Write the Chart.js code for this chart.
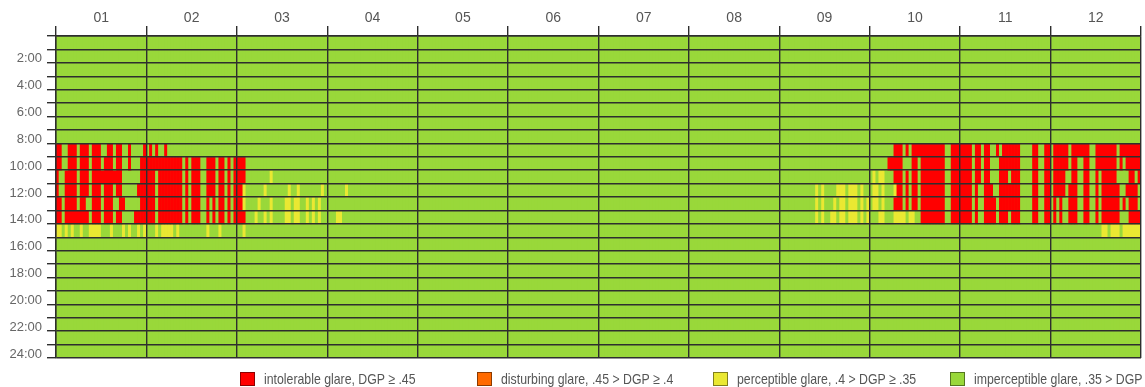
<!DOCTYPE html>
<html>
<head>
<meta charset="utf-8">
<script src="https://cdn.jsdelivr.net/npm/chart.js@4.4.0/dist/chart.umd.min.js"></script>
<style>
  html, body { margin: 0; padding: 0; background: #fff; overflow: hidden; }
  #wrap { position: relative; width: 1145px; height: 387px; overflow: hidden; }
  #legend {
    position: absolute; left: 240px; top: 370px; display: flex; white-space: nowrap;
    font-family: "Liberation Sans", Arial, sans-serif; font-size: 15px; color: #555;
  }
  .item { flex: none; width: 236.5px; display: flex; align-items: center; }
  .box { flex: none; width: 15px; height: 14px; box-sizing: border-box; border: 1px solid rgba(0,0,0,.45); margin-right: 9px; }
  .txt { display: inline-block; transform: scaleX(0.82); transform-origin: left center; }
</style>
</head>
<body>
<div id="wrap">
  <canvas id="chart"></canvas>
  <div id="legend"></div>
</div>
<script>
// 월 라벨 (위쪽 축), 한 달 = 30칸
const months = ['01', '02', '03', '04', '05', '06', '07', '08', '09', '10', '11', '12'];
const slotsPerMonth = 30;

// 시간 눈금 라벨 (2시간 간격)
const hourTickLabels = ['2:00', '4:00', '6:00', '8:00', '10:00', '12:00', '14:00', '16:00', '18:00', '20:00', '22:00', '24:00'];

// 눈부심 등급
const glareCodes = ['r', 'o', 'y', 'g'];
const glareLabels = [
  'intolerable glare, DGP \u2265 .45',
  'disturbing glare, .45 > DGP \u2265 .4',
  'perceptible glare, .4 > DGP \u2265 .35',
  'imperceptible glare, .35 > DGP'
];
const glareColors = ['#ff0000', '#ff6a00', '#eae832', '#99d83a'];

// 시간대별 값 (런렝스: 등급 + 칸 수), 적혀있지 않은 시간은 전부 g
const hour08 = 'r2 g2 r3 g1 r3 g1 r3 g2 r2 g1 r2 g2 r1 g4 r1 g1 r1 g1 r1 g2 r1 g241 r3 g1 r1 g1 r11 g2 r7 g1 r2 g1 r2 g2 r1 g1 r6 g4 r2 g2 r2 g1 r5 g1 r6 g2 r7 g1 r7';
const hour09 = 'r2 g2 r3 g1 r3 g1 r3 g1 r3 g1 r2 g2 r1 g3 r14 g1 r1 g1 r3 g2 r3 g1 r2 g1 r1 g1 r4 g213 r5 g3 r2 g1 r8 g2 r7 g1 r2 g1 r2 g3 r7 g4 r2 g2 r2 g1 r5 g1 r2 g2 r2 g2 r7 g1 r1 g1 r5';
const hour10 = 'r1 g2 r4 g1 r3 g1 r10 g6 r5 g1 r8 g1 r1 g1 r3 g2 r3 g1 r2 g1 r1 g1 r4 g8 y1 g199 y1 g1 y2 g3 r3 g1 r1 g1 r2 g1 r8 g2 r7 g1 r2 g1 r2 g3 r3 g1 r3 g4 r2 g2 r2 g1 r4 g2 r2 g2 r2 g2 r1 g1 r5 g4 r2 g1 r1';
const hour11 = 'r1 g2 r4 g1 r3 g1 r3 g1 r3 g1 r2 g5 r6 g1 r8 g1 r1 g1 r3 g2 r3 g1 r2 g1 r1 g1 r3 y1 g6 y1 g7 y1 g2 y1 g7 y1 g7 y1 g155 y1 g1 y1 g4 y3 g1 y3 g1 y1 g3 y2 g1 y1 g3 y1 r2 g1 r1 g1 r2 g1 r8 g2 r7 g1 r1 g2 r3 g2 r7 g4 r2 g2 r2 g1 r4 g1 r3 g2 r2 g2 r1 g1 r6 g2 r4 g1';
const hour12 = 'r2 g1 r4 g1 r2 g2 r3 g1 r3 g2 r2 g5 r5 g1 r8 g1 r1 g1 r3 g2 r1 g1 r1 g1 r2 g1 r1 g1 r3 y1 g4 y1 g3 y1 g4 y2 g1 y2 g2 y1 g1 y1 g1 y1 g164 y1 g1 y1 g3 y1 g1 y2 g1 y3 g1 y1 g1 y1 g1 y2 g1 y1 g3 r3 g1 r1 g1 r2 g1 r8 g2 r7 g1 r1 g2 r4 g1 r7 g4 r2 g2 r2 g1 r1 g1 r1 g2 r3 g2 r2 g2 r1 g1 r6 g1 r1 g1 r3 g1';
const hour13 = 'r2 g1 r8 g1 r3 g1 r3 g1 r2 g4 r7 g1 r8 g1 r1 g1 r3 g2 r1 g1 r1 g1 r2 g1 r1 g1 r4 g3 y1 g2 y1 g1 y1 g4 y2 g1 y2 g2 y1 g1 y1 g1 y1 g5 y2 g157 y1 g1 y1 g2 y2 g1 y2 g1 y3 g1 y1 g1 y1 g3 y2 g3 y4 g1 y2 g2 r8 g2 r7 g1 r1 g2 r4 g1 r3 g1 r3 g4 r2 g2 r2 g1 r1 g1 r1 g2 r3 g2 r2 g2 r1 g1 r6 g3 r4';
const hour14 = 'y2 g1 y1 g1 y1 g2 y1 g2 y4 g3 y1 g3 y1 g1 y1 g2 y1 g1 y1 g3 y1 g1 y4 g1 y1 g9 y1 g3 y1 g7 y1 g284 y2 g1 y3 g1 y6';

const hourRows = { 8: hour08, 9: hour09, 10: hour10, 11: hour11, 12: hour12, 13: hour13, 14: hour14 };

const slotCount = months.length * slotsPerMonth;
const slots = Array.from({ length: slotCount }, (_, i) => i + 1);
const colorOf = {};
glareCodes.forEach((c, i) => colorOf[c] = glareColors[i]);

// 런렝스 문자열 -> 칸별 등급 배열
function expand(rle) {
  const out = [];
  rle.split(' ').forEach(tok => {
    const n = parseInt(tok.slice(1), 10);
    for (let i = 0; i < n; i++) out.push(tok[0]);
  });
  return out;
}

const datasets = [];
for (let h = 0; h < 24; h++) {
  const codes = hourRows[h] ? expand(hourRows[h]) : slots.map(() => 'g');
  datasets.push({
    label: 'h' + h,
    data: codes.map(() => [h, h + 1]),
    backgroundColor: codes.map(c => colorOf[c]),
    borderWidth: 0,
    barPercentage: 1,
    categoryPercentage: 1,
    grouped: false
  });
}

const lineColor = '#2e2e2e';
Chart.defaults.font.family = '"Liberation Sans", Arial, sans-serif';

// 차트 영역 배경 (이음새 가리기)
const areaFill = {
  id: 'areaFill',
  beforeDraw(chart) {
    const a = chart.chartArea, ctx = chart.ctx;
    ctx.save();
    ctx.fillStyle = colorOf.g;
    ctx.fillRect(a.left, a.top, a.right - a.left, a.bottom - a.top);
    ctx.restore();
  }
};

new Chart(document.getElementById('chart'), {
  type: 'bar',
  data: { labels: slots, datasets: datasets },
  options: {
    responsive: true,
    maintainAspectRatio: false,
    animation: false,
    layout: { padding: { top: 0, left: 0, right: 4, bottom: 29 } },
    plugins: { legend: { display: false }, tooltip: { enabled: false } },
    scales: {
      x: { display: false, offset: true },
      xm: {
        type: 'category',
        labels: months,
        position: 'top',
        offset: true,
        grid: { offset: true, color: lineColor, lineWidth: 1.4, tickLength: 10, z: 1 },
        border: { color: lineColor, width: 1.4, z: 1 },
        ticks: { color: '#555', font: { size: 14 }, padding: -1 },
        afterFit: s => { s.height = 36; }
      },
      y: {
        type: 'linear',
        reverse: true,
        min: 0,
        max: 24,
        grid: { color: lineColor, lineWidth: 1.4, tickLength: 9, z: 1 },
        border: { color: lineColor, width: 1.4, z: 1 },
        ticks: {
          stepSize: 1,
          autoSkip: false,
          color: '#666',
          font: { size: 13 },
          padding: 5,
          labelOffset: -4,
          callback: v => (v > 0 && v % 2 === 0) ? hourTickLabels[v / 2 - 1] : ''
        },
        afterFit: s => { s.width = 56; }
      }
    }
  },
  plugins: [areaFill]
});

// 범례
const legend = document.getElementById('legend');
glareLabels.forEach((text, i) => {
  const item = document.createElement('div');
  item.className = 'item';
  const box = document.createElement('span');
  box.className = 'box';
  box.style.background = glareColors[i];
  const label = document.createElement('span');
  label.className = 'txt';
  label.textContent = text;
  item.appendChild(box);
  item.appendChild(label);
  legend.appendChild(item);
});
</script>
</body>
</html>
